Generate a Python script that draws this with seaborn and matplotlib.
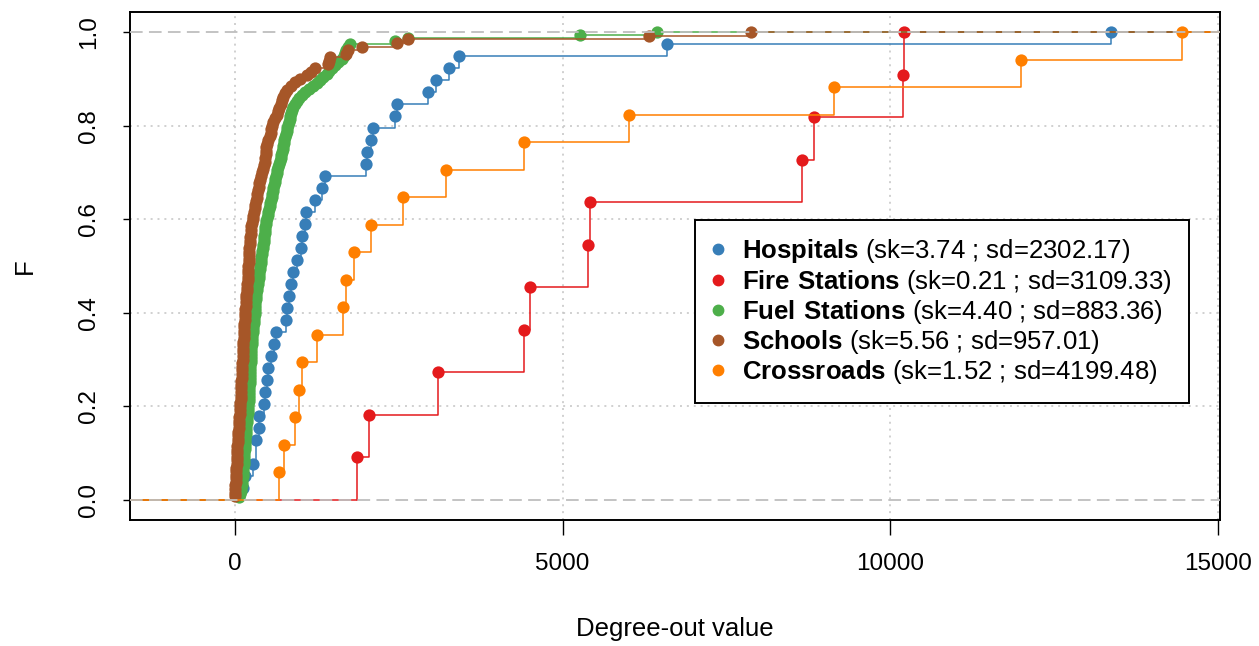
import numpy as np
import pandas as pd
import matplotlib
matplotlib.use("Agg")
import matplotlib.pyplot as plt
import seaborn as sns
from matplotlib.lines import Line2D

# ---------------- data (degree-out values) ----------------
hospitals = [120, 150, 270, 320, 320, 366, 371, 442, 458, 483,
             499, 549, 600, 620, 773, 799, 824, 850, 890, 941,
             1002, 1017, 1068, 1078, 1221, 1323, 1378, 1994, 2019, 2071,
             2101, 2442, 2467, 2940, 3067, 3266, 3418, 6596, 13372]

fire_stations = [1860, 2040, 3100, 4410, 4500, 5390, 5420, 8650, 8830, 10200, 10210]

fuel_stations = [60, 80, 90, 100, 105, 110, 114, 118, 122, 127,
                 130, 133, 136, 139, 142, 145, 148, 150, 153,
                 157, 161, 165, 169, 173, 177, 181, 185, 190, 196, 203,
                 205, 207, 210, 212, 214, 217, 219, 221, 224, 226, 229,
                 231, 233, 235, 237, 239, 241, 244, 246, 248, 251, 254,
                 258, 262, 266, 271, 275, 280, 285, 290, 295, 300,
                 304, 307, 310, 313, 317, 320,
                 326, 333, 340, 347, 355,
                 361, 367, 373, 379, 386, 392,
                 398, 405, 412, 420, 430,
                 435, 440, 444, 449, 454, 458,
                 465, 473, 481, 490, 500, 509,
                 519, 529, 539, 549, 560,
                 569, 578, 588, 597, 607, 617, 627, 636,
                 647, 659, 672, 687,
                 697, 707, 717, 727, 737, 745, 754, 763,
                 775, 788, 801, 814,
                 824, 834, 845, 855, 865,
                 890, 915, 941,
                 980, 1025, 1068,
                 1130, 1190, 1246,
                 1300, 1350, 1399,
                 1440, 1480, 1526,
                 1580, 1628,
                 1660, 1680, 1694,
                 1730, 1760, 2442, 2640, 5265, 6435]

schools = [3, 5, 7, 9, 11, 13, 16, 19, 22, 25,
           28, 31, 34, 37, 40, 43, 47, 51, 55, 59,
           63, 66, 70, 74, 77, 80, 83, 86, 89, 92,
           95, 98, 101, 103, 106, 109, 111, 114, 117, 119,
           122, 124, 127, 130, 134, 137, 140, 143, 146, 149,
           152, 155, 159, 164, 168, 172, 176, 180, 185, 189,
           193, 196, 199, 202, 205, 208, 211, 214, 218, 222,
           226, 231, 235, 239, 243, 252, 261, 270, 280, 290,
           300, 310, 320, 331, 341, 351, 361, 371, 382, 397,
           412, 428, 443, 458, 463, 468, 475, 482, 490, 500,
           530, 545, 553, 560, 585, 610, 636, 658, 680, 700,
           712, 735, 760, 789, 850, 916, 1000, 1094, 1160, 1221,
           1414, 1440, 1450, 1694, 1724, 1933, 2467, 2645, 6313, 7870]

crossroads = [667, 752, 916, 977, 1027, 1246, 1643, 1694, 1816, 2071,
              2569, 3215, 4415, 6010, 9144, 12001, 14447]

series_names = ["Hospitals", "Fire Stations", "Fuel Stations", "Schools", "Crossroads"]
skewness = ["3.74", "0.21", "4.40", "5.56", "1.52"]
std_devs = ["2302.17", "3109.33", "883.36", "957.01", "4199.48"]
colors = ["#377EB8", "#E41A1C", "#4DAF4A", "#A65628", "#FF7F00"]

x_ticks = [0, 5000, 10000, 15000]
x_tick_labels = ["0", "5000", "10000", "15000"]
y_ticks = [0.0, 0.2, 0.4, 0.6, 0.8, 1.0]
y_tick_labels = ["0.0", "0.2", "0.4", "0.6", "0.8", "1.0"]

# ---------------- style ----------------
sns.set_theme(style="white")
plt.rcParams['font.family'] = ['Liberation Sans', 'DejaVu Sans']
plt.rcParams['mathtext.fontset'] = 'custom'
plt.rcParams['mathtext.rm'] = 'Liberation Sans'
plt.rcParams['mathtext.bf'] = 'Liberation Sans:bold'
plt.rcParams['text.color'] = 'black'
plt.rcParams['axes.labelcolor'] = 'black'
plt.rcParams['xtick.color'] = 'black'
plt.rcParams['ytick.color'] = 'black'

W, H = 1259, 646
fig = plt.figure(figsize=(W / 100, H / 100), dpi=100)
ax = fig.add_axes([130 / W, 1 - 520 / H, 1090 / W, 508 / H])

xlim = (-1600, 15030)
ylim = (-0.043, 1.043)

# grid (dotted light gray)
for xv in x_ticks:
    ax.axvline(xv, color='#C4C4C4', lw=1.1, dashes=(1.3, 3.2), zorder=0.5)
for yv in y_ticks[1:-1]:
    ax.axhline(yv, color='#C4C4C4', lw=1.1, dashes=(1.3, 3.2), zorder=0.5)

all_series = [hospitals, fire_stations, fuel_stations, schools, crossroads]
for i, (name, vals, col) in enumerate(zip(series_names, all_series, colors)):
    df = pd.DataFrame({"value": vals})
    sns.ecdfplot(data=df, x="value", color=col, lw=1.1, ax=ax, zorder=2 + 2 * i)
    xs = np.unique(np.asarray(vals, dtype=float))
    Fs = np.searchsorted(np.sort(vals), xs, side="right") / len(vals)
    sns.scatterplot(x=xs, y=Fs, color=col, s=78, linewidth=0, ax=ax,
                    zorder=3 + 2 * i, legend=False)
    # extensions beyond the data range
    ax.plot([xlim[0], xs[0]], [0, 0], color=col, lw=1.1, zorder=2 + 2 * i)
    ax.plot([xs[-1], xlim[1]], [1, 1], color=col, lw=1.1, zorder=2 + 2 * i)

# dashed gray reference lines at 0 and 1
for yv in (0.0, 1.0):
    ax.axhline(yv, color='#BEBEBE', lw=1.3, dashes=(7, 3.5), zorder=30)

ax.set_xlim(xlim)
ax.set_ylim(ylim)

ax.set_xticks(x_ticks)
ax.set_xticklabels(x_tick_labels)
ax.set_yticks(y_ticks)
ax.set_yticklabels(y_tick_labels)
ax.tick_params(axis='x', bottom=True, length=10.5, width=1.0, pad=13.3,
               labelsize=17.5, direction='out')
ax.tick_params(axis='y', left=True, length=5, width=1.0, pad=16.3,
               labelsize=17.5, direction='out')
for lab in ax.get_yticklabels():
    lab.set_rotation(90)
    lab.set_va('center')

for sp in ax.spines.values():
    sp.set_color('black')
    sp.set_linewidth(1.4)

ax.set_xlabel("Degree-out value", fontsize=18.5)
ax.set_ylabel("F", fontsize=18.5)
ax.xaxis.set_label_coords(0.5, -0.1906)
ax.yaxis.set_label_coords(-0.0853, 0.5)

# legend
handles = []
for name, sk, sd, col in zip(series_names, skewness, std_devs, colors):
    bold = name.replace(" ", r"\ ")
    lbl = r"$\mathbf{" + bold + "}$" + f" (sk={sk} ; sd={sd})"
    handles.append(Line2D([], [], marker='o', color=col, linestyle='none',
                          markersize=7.5, label=lbl))
leg = ax.legend(handles=handles, loc='upper left', bbox_to_anchor=(0.518, 0.5906),
                fontsize=18.5, frameon=True, fancybox=False, framealpha=1,
                edgecolor='black', borderpad=0.68, labelspacing=0.08,
                handletextpad=0.74, handlelength=0.44, borderaxespad=0)
leg.get_frame().set_linewidth(1.4)
leg.set_zorder(40)

fig.savefig("out.png", dpi=100)
